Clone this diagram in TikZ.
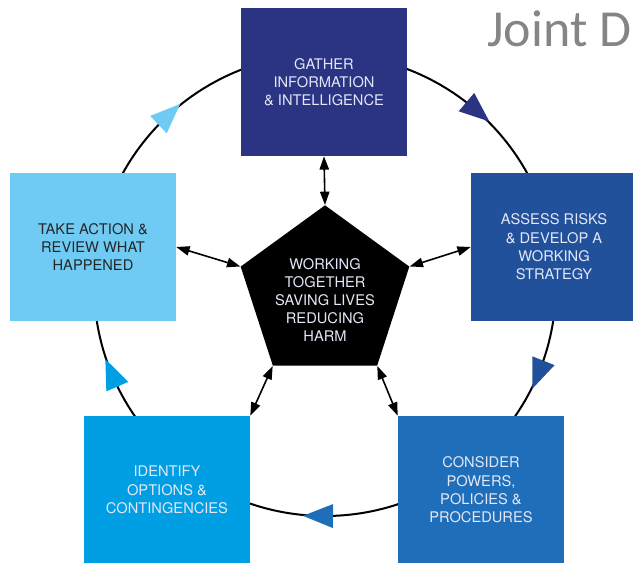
\documentclass[tikz,border=0pt]{standalone}
\usepackage{fontspec}
\setmainfont{TeX Gyre Heros}
\newfontfamily\titlefont{Carlito}
\usepackage{xcolor}
\usetikzlibrary{shapes.geometric,arrows.meta,calc,positioning}

\definecolor{gathercol}{HTML}{2A3482}
\definecolor{assesscol}{HTML}{21519B}
\definecolor{considercol}{HTML}{1E6EB9}
\definecolor{identifycol}{HTML}{009EE2}
\definecolor{actioncol}{HTML}{6FCBF4}
\definecolor{lighttext}{HTML}{E4E7F7}
\definecolor{darktext}{HTML}{262626}
\definecolor{titlegray}{HTML}{858585}

\tikzset{
  stage/.style={rectangle, minimum width=124.5pt, minimum height=111pt, inner sep=0pt,
    align=center, font=\fontsize{11}{13.7}\selectfont, text=lighttext},
  link/.style={line width=1.2pt, {Triangle[length=10pt,width=7pt]}-{Triangle[length=10pt,width=7pt]}},
  ring/.style={line width=1.5pt}
}

\begin{document}
\begin{tikzpicture}[x=0.75pt,y=0.75pt]
  \useasboundingbox (0,0) rectangle (633,-563);
  \clip (0,0) rectangle (633,-563);
  % the cycle
  \coordinate (hub) at (325,-285);
  \draw[ring] (hub) circle (231);

  % the five stages
  \node[stage, fill=gathercol] (gather) at (324,-82) {GATHER\\INFORMATION\\\& INTELLIGENCE};
  \node[stage, fill=assesscol] (assess) at (554,-247) {ASSESS RISKS\\\& DEVELOP A\\WORKING\\STRATEGY};
  \node[stage, fill=considercol] (consider) at (481,-490) {CONSIDER\\POWERS,\\POLICIES \&\\PROCEDURES};
  \node[stage, fill=identifycol] (identify) at (167,-490) {IDENTIFY\\OPTIONS \&\\CONTINGENCIES};
  \node[stage, fill=actioncol, text=darktext] (action) at (93,-247) {TAKE ACTION \&\\REVIEW WHAT\\HAPPENED};

  % heads on the ring
  \foreach \ang/\col in {49.8/gathercol, -21.6/assesscol, -90.5/considercol, 203.6/identifycol, 133.6/actioncol}
    \fill[\col, shift={(hub)}, rotate=\ang] (231,-20) -- (219,10) -- (243,10) -- cycle;

  % centre
  \node[regular polygon, regular polygon sides=5, minimum size=133pt, inner sep=0pt, fill=black] (core) at (325,-294) {};
  \node[align=center, font=\fontsize{11}{13.5}\selectfont, text=lighttext] (motto) at (325,-300)
    {WORKING\\TOGETHER\\SAVING LIVES\\REDUCING\\HARM};

  \draw[link] (core.corner 1) -- (gather.south);
  \draw[link] (core.corner 2) -- (action.east);
  \draw[link] (core.corner 5) -- (assess.west);
  \draw[link] (core.corner 3) -- (identify.north east);
  \draw[link] (core.corner 4) -- (consider.north west);

  \node[anchor=base west, inner sep=0pt, font=\titlefont\fontsize{39}{39}\selectfont, text=titlegray] (title) at (487,-47) {Joint D};
\end{tikzpicture}
\end{document}
